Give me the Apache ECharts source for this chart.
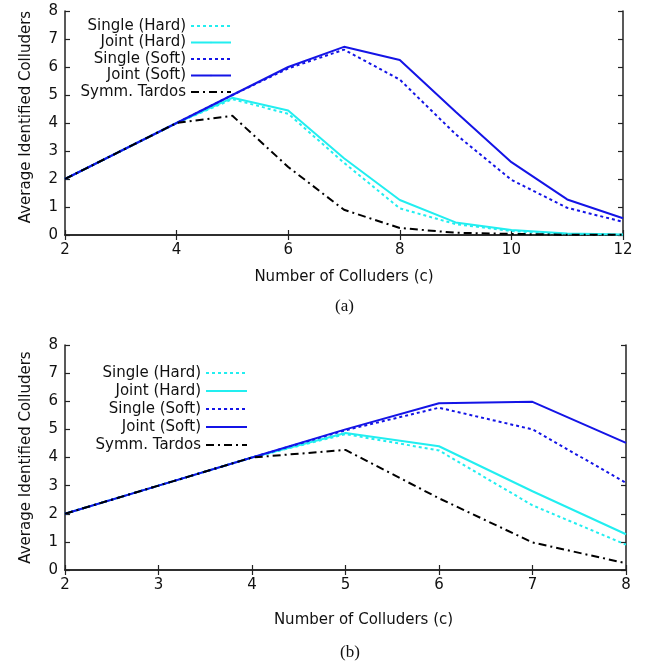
<!DOCTYPE html>
<html><head><meta charset="utf-8">
<script src="https://cdn.jsdelivr.net/npm/echarts@6/dist/echarts.min.js"></script>
<style>html,body{margin:0;padding:0;background:#fff}#c{width:661px;height:665px}</style>
</head><body><div id="c"></div>
<script>
// ---- data ----
const seriesNames = ['Single (Hard)', 'Joint (Hard)', 'Single (Soft)', 'Joint (Soft)', 'Symm. Tardos'];

// (a)
const xA = [2, 3, 4, 5, 6, 7, 8, 9, 10, 11, 12];
const aSingleHard = [2, 3, 4, 4.85, 4.33, 2.58, 0.95, 0.39, 0.14, 0.03, 0.01];
const aJointHard  = [2, 3, 4, 4.9, 4.45, 2.74, 1.25, 0.45, 0.18, 0.05, 0.02];
const aSingleSoft = [2, 3, 4, 5, 5.95, 6.62, 5.55, 3.6, 1.97, 0.97, 0.47];
const aJointSoft  = [2, 3, 4, 5, 6, 6.72, 6.25, 4.4, 2.6, 1.27, 0.6];
const aTardos     = [2, 3, 4, 4.26, 2.43, 0.9, 0.25, 0.08, 0.04, 0.01, 0.01];

// (b)
const xB = [2, 3, 4, 5, 6, 7, 8];
const bSingleHard = [2, 3, 4, 4.83, 4.25, 2.3, 0.9];
const bJointHard  = [2, 3, 4, 4.87, 4.4, 2.8, 1.27];
const bSingleSoft = [2, 3, 4, 4.97, 5.77, 5.0, 3.1];
const bJointSoft  = [2, 3, 4, 5, 5.93, 5.98, 4.52];
const bTardos     = [2, 3, 4, 4.27, 2.55, 0.98, 0.24];

const yTicks = [0, 1, 2, 3, 4, 5, 6, 7, 8];
const xTitle = 'Number of Colluders (c)';
const yTitle = 'Average Identified Colluders';
const captions = ['(a)', '(b)'];

// ---- styles ----
const FONT = 'DejaVu Sans';
const CYAN = '#22eef0';
const BLUE = '#1414e6';
const styles = [
  {color: CYAN, type: [3, 3]},
  {color: CYAN, type: 'solid'},
  {color: BLUE, type: [3, 3]},
  {color: BLUE, type: 'solid'},
  {color: '#000', type: [8, 4, 2, 4]}
];

function pair(xs, ys) { return xs.map((x, i) => [x, ys[i]]); }

const setA = [aSingleHard, aJointHard, aSingleSoft, aJointSoft, aTardos];
const setB = [bSingleHard, bJointHard, bSingleSoft, bJointSoft, bTardos];

const series = [];
[[xA, setA, 0], [xB, setB, 1]].forEach(([xs, set, gi]) => {
  set.forEach((ys, k) => {
    series.push({
      name: seriesNames[k], type: 'line', xAxisIndex: gi * 2, yAxisIndex: gi * 2,
      data: pair(xs, ys), symbol: 'none', showSymbol: false, animation: false,
      lineStyle: {color: styles[k].color, type: styles[k].type, width: 2},
      itemStyle: {color: styles[k].color}, z: 2 + k
    });
  });
});

const axisLine = {show: true, lineStyle: {color: '#222', width: 1.5}};
const tickIn = {show: true, inside: true, length: 5, lineStyle: {color: '#222', width: 1.2}};
const labelStyle = {color: '#111', fontFamily: FONT, fontSize: 15};

function xAxes(gi, min, max, interval, namePad) {
  return [
    {type: 'value', gridIndex: gi, min, max, interval, position: 'bottom',
     axisLine, axisTick: tickIn, splitLine: {show: false},
     axisLabel: Object.assign({margin: 8}, labelStyle),
     name: xTitle, nameLocation: 'middle', nameGap: gi === 0 ? 35 : 43,
     nameTextStyle: {color: '#111', fontFamily: FONT, fontSize: 15, padding: namePad}},
    {type: 'value', gridIndex: gi, min, max, interval, position: 'top',
     axisLine, axisTick: tickIn, splitLine: {show: false}, axisLabel: {show: false}}
  ];
}
function yAxes(gi) {
  return [
    {type: 'value', gridIndex: gi, min: 0, max: 8, interval: 1, position: 'left',
     axisLine, axisTick: tickIn, splitLine: {show: false},
     axisLabel: Object.assign({margin: 7, formatter: v => yTicks.includes(v) ? String(v) : ''}, labelStyle),
     name: yTitle, nameLocation: 'middle', nameGap: 31,
     nameTextStyle: {color: '#111', fontFamily: FONT, fontSize: 15, padding: gi === 0 ? [0, 0, 0, 12] : [0, 0, 0, 0]}},
    {type: 'value', gridIndex: gi, min: 0, max: 8, interval: 1, position: 'right',
     axisLine, axisTick: tickIn, splitLine: {show: false}, axisLabel: {show: false}}
  ];
}

const legendText = {color: '#111', fontFamily: FONT, fontSize: 15};
const option = {
  backgroundColor: '#fff',
  animation: false,
  grid: [
    {left: 65, right: 38, top: 11, height: 224},
    {left: 65, right: 35, top: 345, height: 225}
  ],
  xAxis: [].concat(xAxes(0, 2, 12, 2, [0, 0, 0, 0]), xAxes(1, 2, 8, 1, [0, 0, 0, 36])),
  yAxis: [].concat(yAxes(0), yAxes(1)),
  legend: [
    {data: seriesNames, orient: 'vertical', align: 'right', right: 429, top: 18.5, padding: 0,
     itemWidth: 40, itemHeight: 2, itemGap: 1.5, textStyle: legendText, selectedMode: false},
    {data: seriesNames, orient: 'vertical', align: 'right', right: 413, top: 365.5, padding: 0,
     itemWidth: 41, itemHeight: 2, itemGap: 3, textStyle: legendText, selectedMode: false}
  ],
  graphic: [
    {type: 'text', left: 335, top: 298, style: {text: captions[0], font: '17px "Liberation Serif"', fill: '#111'}},
    {type: 'text', left: 340, top: 644, style: {text: captions[1], font: '17px "Liberation Serif"', fill: '#111'}}
  ],
  series
};
const chart = echarts.init(document.getElementById('c'), null, {renderer: 'canvas'});
chart.setOption(option);
</script></body></html>
